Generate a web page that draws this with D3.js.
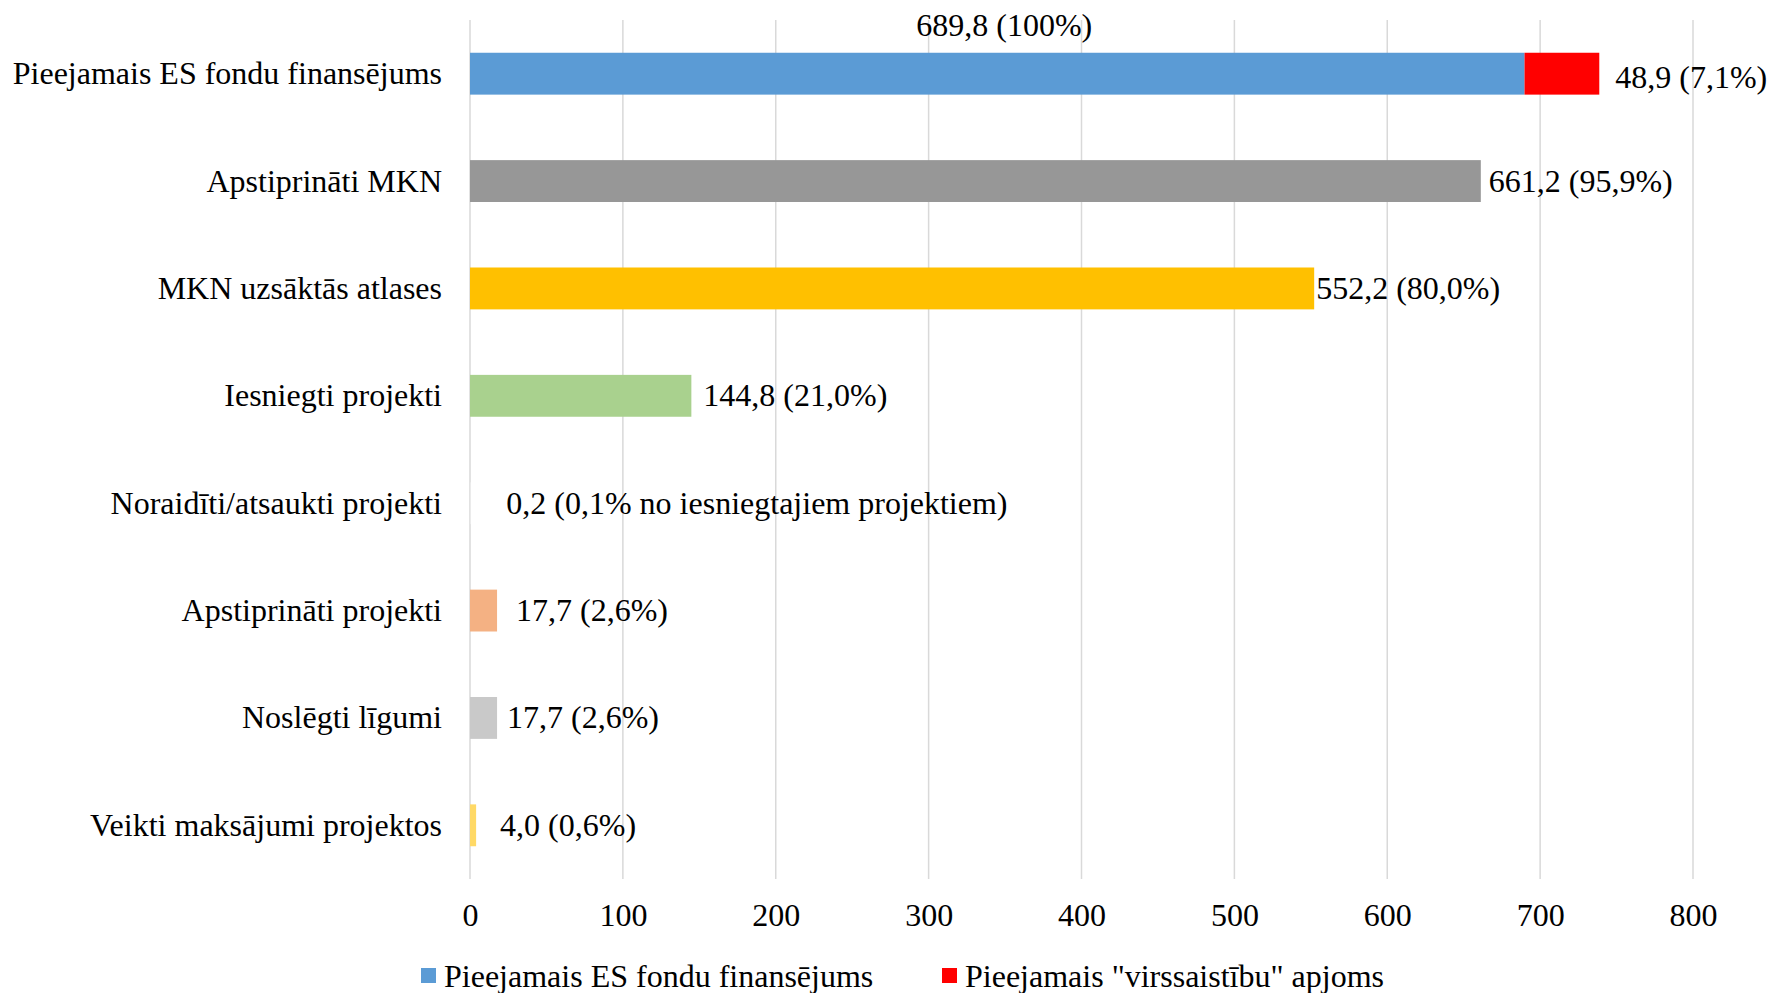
<!DOCTYPE html>
<html>
<head>
<meta charset="utf-8">
<script src="https://d3js.org/d3.v7.min.js"></script>
<style>
  body { margin: 0; background: #fff; }
  text { font-family: "Liberation Serif", "Times New Roman", serif; fill: #000; }
  .grid line { stroke: #d9d9d9; stroke-width: 1.5; }
</style>
</head>
<body>
<script>
// categories (top to bottom)
var categories = [
  "Pieejamais ES fondu finansējums",
  "Apstiprināti MKN",
  "MKN uzsāktās atlases",
  "Iesniegti projekti",
  "Noraidīti/atsaukti projekti",
  "Apstiprināti projekti",
  "Noslēgti līgumi",
  "Veikti maksājumi projektos"
];
// main values, mln EUR
var values = [689.8, 661.2, 552.2, 144.8, 0.2, 17.7, 17.7, 4.0];
// extra "virssaistību" amount (only first row)
var overValues = [48.9, 0, 0, 0, 0, 0, 0, 0];
var valueLabels = [
  "689,8 (100%)",
  "661,2 (95,9%)",
  "552,2 (80,0%)",
  "144,8 (21,0%)",
  "0,2 (0,1% no iesniegtajiem projektiem)",
  "17,7 (2,6%)",
  "17,7 (2,6%)",
  "4,0 (0,6%)"
];
var overLabels = ["48,9 (7,1%)", "", "", "", "", "", "", ""];
var barColors = ["#5b9bd5", "#979797", "#ffc000", "#a9d18e", "#ffffff", "#f4b183", "#c9c9c9", "#ffd966"];
var xTicks = [0, 100, 200, 300, 400, 500, 600, 700, 800];
var legendNames = ["Pieejamais ES fondu finansējums", "Pieejamais \"virssaistību\" apjoms"];
var legendColors = ["#5b9bd5", "#ff0000"];

function drawChart() {
  var w = 1771;
  var h = 993;
  var plotLeft = 470, plotRight = 1693, plotTop = 20, plotBottom = 879;
  var fontSize = 32;

  var svg = d3.select("body")
    .append("svg")
    .attr("width", w)
    .attr("height", h);

  var xScale = d3.scaleLinear()
    .domain([0, 800])
    .range([plotLeft, plotRight]);

  var yScale = d3.scaleBand()
    .domain(categories)
    .range([plotTop, plotBottom])
    .paddingInner(0.61)
    .paddingOuter(0.305);

  // gridlines
  svg.append("g")
    .attr("class", "grid")
    .selectAll("line")
    .data(xTicks)
    .enter()
    .append("line")
    .attr("x1", function(d) { return xScale(d); })
    .attr("x2", function(d) { return xScale(d); })
    .attr("y1", plotTop)
    .attr("y2", plotBottom);

  // x axis labels
  var xAxis = d3.axisBottom(xScale)
    .tickValues(xTicks)
    .tickSize(0)
    .tickPadding(0)
    .tickFormat(d3.format("d"));
  var ax = svg.append("g")
    .attr("transform", "translate(0," + (plotBottom + 47) + ")")
    .call(xAxis);
  ax.select(".domain").remove();
  ax.selectAll("text")
    .attr("dy", null)
    .style("font-family", "'Liberation Serif', serif")
    .style("font-size", fontSize + "px")
    .attr("fill", "#000");

  // category labels
  svg.selectAll(".cat")
    .data(categories)
    .enter()
    .append("text")
    .attr("class", "cat")
    .attr("x", plotLeft - 28)
    .attr("y", function(d) { return yScale(d) + yScale.bandwidth() / 2; })
    .attr("dy", "0.33em")
    .attr("text-anchor", "end")
    .style("font-size", fontSize + "px")
    .text(function(d) { return d; });

  // main bars
  svg.selectAll(".bar")
    .data(values)
    .enter()
    .append("rect")
    .attr("class", "bar")
    .attr("x", xScale(0))
    .attr("y", function(d, i) { return yScale(categories[i]); })
    .attr("width", function(d) { return xScale(d) - xScale(0); })
    .attr("height", yScale.bandwidth())
    .attr("fill", function(d, i) { return barColors[i]; });

  // "virssaistību" bars stacked on the end
  svg.selectAll(".over")
    .data(overValues)
    .enter()
    .append("rect")
    .attr("class", "over")
    .attr("x", function(d, i) { return xScale(values[i]); })
    .attr("y", function(d, i) { return yScale(categories[i]); })
    .attr("width", function(d, i) { return xScale(values[i] + d) - xScale(values[i]); })
    .attr("height", yScale.bandwidth())
    .attr("fill", legendColors[1]);

  // value labels (first one sits above its bar)
  var labelDx = [0, 8, 2, 12, 36, 19, 10, 24];
  svg.selectAll(".val")
    .data(valueLabels)
    .enter()
    .append("text")
    .attr("class", "val")
    .attr("x", function(d, i) {
      if (i === 0) return xScale(values[i] / 2) + 7;
      return xScale(values[i]) + labelDx[i];
    })
    .attr("y", function(d, i) {
      var c = yScale(categories[i]) + yScale.bandwidth() / 2;
      return i === 0 ? c - 48 : c;
    })
    .attr("dy", "0.33em")
    .attr("text-anchor", function(d, i) { return i === 0 ? "middle" : "start"; })
    .style("font-size", fontSize + "px")
    .text(function(d) { return d; });

  svg.selectAll(".overval")
    .data(overLabels)
    .enter()
    .append("text")
    .attr("class", "overval")
    .attr("x", function(d, i) { return xScale(values[i] + overValues[i]) + 16; })
    .attr("y", function(d, i) { return yScale(categories[i]) + yScale.bandwidth() / 2 + 4; })
    .attr("dy", "0.33em")
    .style("font-size", fontSize + "px")
    .text(function(d) { return d; });

  // legend
  var legendX = [421, 942];
  var lg = svg.selectAll(".legend")
    .data(legendNames)
    .enter()
    .append("g")
    .attr("class", "legend")
    .attr("transform", function(d, i) { return "translate(" + legendX[i] + "," + 976 + ")"; });
  lg.append("rect")
    .attr("x", 0)
    .attr("y", -8)
    .attr("width", 15)
    .attr("height", 15)
    .attr("fill", function(d, i) { return legendColors[i]; });
  lg.append("text")
    .attr("x", 23)
    .attr("y", 0)
    .attr("dy", "0.33em")
    .style("font-size", fontSize + "px")
    .text(function(d) { return d; });
}

drawChart();
</script>
</body>
</html>
